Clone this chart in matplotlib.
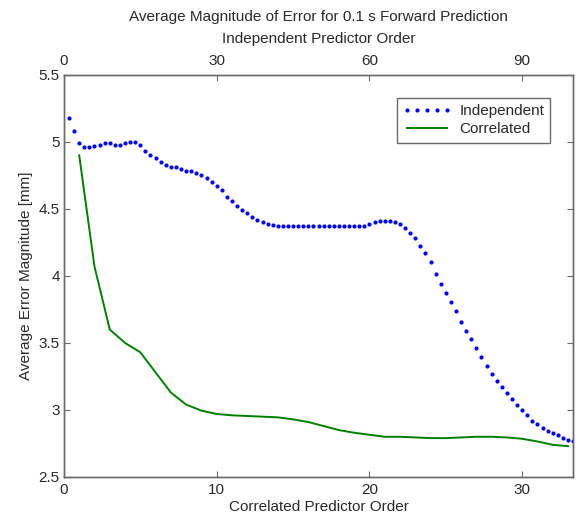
import matplotlib
matplotlib.use("Agg")
import matplotlib.pyplot as plt
from matplotlib.lines import Line2D

plt.rcParams['font.family'] = ['Liberation Sans', 'DejaVu Sans']

# Independent predictor (top axis), orders 1..100
indep_order = list(range(1, 101))
indep_err = [5.18, 5.08, 4.99, 4.965, 4.965, 4.97, 4.98, 4.99, 4.99, 4.98,
             4.98, 4.99, 5.00, 5.00, 4.98, 4.93, 4.90, 4.88, 4.85, 4.83,
             4.81, 4.81, 4.80, 4.78, 4.78, 4.77, 4.75, 4.73, 4.70, 4.67,
             4.64, 4.59, 4.56, 4.52, 4.49, 4.47, 4.44, 4.42, 4.40, 4.39,
             4.38, 4.375, 4.37, 4.37, 4.37, 4.37, 4.37, 4.37, 4.375, 4.375,
             4.375, 4.37, 4.37, 4.37, 4.37, 4.37, 4.37, 4.37, 4.375, 4.385,
             4.40, 4.41, 4.41, 4.41, 4.405, 4.39, 4.36, 4.32, 4.28, 4.224,
             4.17, 4.10, 4.015, 3.94, 3.875, 3.806, 3.736, 3.657, 3.592, 3.532,
             3.463, 3.396, 3.328, 3.269, 3.219, 3.169, 3.129, 3.082, 3.037, 3.00,
             2.963, 2.92, 2.893, 2.868, 2.843, 2.826, 2.811, 2.791, 2.776, 2.766]

# Correlated predictor (bottom axis), orders 1..33
corr_order = list(range(1, 34))
corr_err = [4.90, 4.07, 3.60, 3.50, 3.43, 3.28, 3.13, 3.04, 2.995, 2.97,
            2.96, 2.955, 2.95, 2.945, 2.93, 2.91, 2.88, 2.85, 2.83, 2.815,
            2.80, 2.80, 2.795, 2.79, 2.79, 2.795, 2.80, 2.80, 2.795, 2.785,
            2.765, 2.74, 2.73]

bottom_ticks = [0, 10, 20, 30]
top_ticks = [0, 30, 60, 90]
y_ticks = [2.5, 3, 3.5, 4, 4.5, 5, 5.5]
y_ticklabels = ['2.5', '3', '3.5', '4', '4.5', '5', '5.5']

axcol = '#6a6a6a'
txtcol = '#2a2a2a'
fs = 11

fig = plt.figure(figsize=(5.76, 5.16), dpi=100)
ax = fig.add_axes([0.111, 0.0756, 0.884, 0.7794])
ax2 = ax.twiny()

ax.plot(corr_order, corr_err, color=(0, 0.5, 0), lw=1.4, label='Correlated')
ax2.plot(indep_order, indep_err, ls='none', marker='o', ms=3.0, mec='none',
         color=(0, 0, 1), label='Independent')

ax.set_xlim(0, 100 / 3)
ax2.set_xlim(0, 100)
ax.set_ylim(2.5, 5.5)
ax.set_xticks(bottom_ticks)
ax2.set_xticks(top_ticks)
ax.set_yticks(y_ticks)
ax.set_yticklabels(y_ticklabels)

for a in (ax, ax2):
    for s in a.spines.values():
        s.set_color(axcol)
        s.set_linewidth(1.0)
    a.tick_params(direction='in', length=4, color=axcol, labelcolor=txtcol,
                  labelsize=fs, width=0.8)
ax.tick_params(axis='y', right=True, pad=3)
ax.tick_params(axis='x', pad=4.5)
ax2.tick_params(axis='x', pad=5)

ax.set_xlabel('Correlated Predictor Order', fontsize=fs, color=txtcol, labelpad=2)
ax.set_ylabel('Average Error Magnitude [mm]', fontsize=fs, color=txtcol, labelpad=4)
ax2.set_xlabel('Independent Predictor Order', fontsize=fs, color=txtcol, labelpad=8)
ax2.set_title('Average Magnitude of Error for 0.1 s Forward Prediction',
              fontsize=fs, color=txtcol, pad=8)

handles = [Line2D([], [], ls='none', marker='o', ms=3.0, mec='none', color=(0, 0, 1)),
           Line2D([], [], color=(0, 0.5, 0), lw=1.4)]
leg = ax2.legend(handles, ['Independent', 'Correlated'], loc='upper right',
                 bbox_to_anchor=(0.955, 0.943), borderaxespad=0, numpoints=5,
                 fancybox=False, framealpha=1, edgecolor=axcol, fontsize=fs,
                 handlelength=3.2, borderpad=0.4, labelspacing=0.3,
                 handletextpad=0.5)
leg.get_frame().set_linewidth(1.0)
for t in leg.get_texts():
    t.set_color(txtcol)

fig.savefig('out.png', dpi=100)
